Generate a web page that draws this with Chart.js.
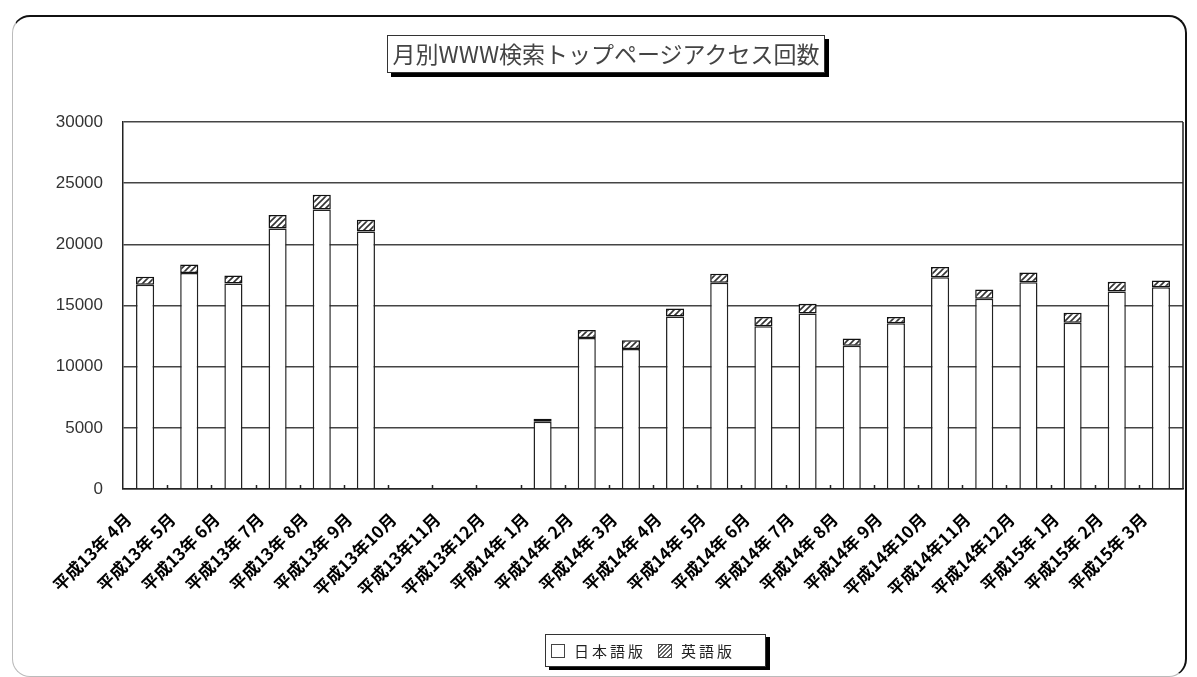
<!DOCTYPE html>
<html lang="ja">
<head>
<meta charset="utf-8">
<title>月別WWW検索トップページアクセス回数</title>
<script src="https://cdn.jsdelivr.net/npm/chart.js@4.4.1/dist/chart.umd.min.js"></script>
<style>
  html, body { margin: 0; padding: 0; background: #fff; }
  #wrap { position: relative; width: 1197px; height: 677px; overflow: hidden; }
  #frame {
    position: absolute; left: 12px; top: 15px; width: 1175px; height: 662px;
    box-sizing: border-box; border-radius: 18px;
    border-top: 2px solid #111; border-right: 2px solid #111;
    border-left: 1px solid #bbb; border-bottom: 1px solid #bbb;
  }
  canvas { position: absolute; left: 0; top: 0; }
  #title {
    position: absolute; left: 387px; top: 35px; width: 438px; height: 38px;
    box-sizing: border-box; border: 1.5px solid #333; box-shadow: 4px 4px 0 #000;
    background: #fff; color: #444; text-align: center; line-height: 35px;
    font: 23px "Noto Sans CJK JP", sans-serif; white-space: nowrap;
  }
  #legend {
    position: absolute; left: 545px; top: 634px; width: 221px; height: 33px;
    box-sizing: border-box; border: 1.5px solid #333; box-shadow: 4px 3px 0 #000;
    background: #fff; display: flex; align-items: center; padding-left: 5px;
    font: 15px "Noto Sans CJK JP", sans-serif; color: #222; letter-spacing: 3px;
  }
  .sw { display: inline-block; width: 14px; height: 14px; box-sizing: border-box; border: 1.5px solid #444; margin-right: 9px; }
  .sw.jp { background: #fff; }
  .sw.en { background: repeating-linear-gradient(135deg, #fff 0 1.5px, #666 1.5px 3px); margin-left: 12px; }
</style>
</head>
<body>
<div id="wrap">
  <div id="frame"></div>
  <canvas id="chart" width="1197" height="677"></canvas>
  <div id="title">月別WWW検索トップページアクセス回数</div>
  <div id="legend"><span class="sw jp"></span>日本語版<span class="sw en"></span>英語版</div>
</div>
<script>
const months = [
  "平成13年 4月", "平成13年 5月", "平成13年 6月", "平成13年 7月", "平成13年 8月", "平成13年 9月",
  "平成13年10月", "平成13年11月", "平成13年12月", "平成14年 1月", "平成14年 2月", "平成14年 3月",
  "平成14年 4月", "平成14年 5月", "平成14年 6月", "平成14年 7月", "平成14年 8月", "平成14年 9月",
  "平成14年10月", "平成14年11月", "平成14年12月", "平成15年 1月", "平成15年 2月", "平成15年 3月"
];
const japanese = [16700, 17650, 16800, 21300, 22850, 21050, null, null, null, 5500, 12350, 11450,
  14100, 16850, 13300, 14350, 11700, 13550, 17300, 15550, 16900, 13600, 16150, 16500];
const english = [650, 700, 650, 1100, 1200, 950, null, null, null, 250, 650, 700,
  650, 750, 750, 800, 600, 500, 850, 750, 800, 800, 800, 550];
const seriesNames = ["日本語版", "英語版"];
const yMax = 30000;
const yStep = 5000;

function hatch() {
  const c = document.createElement("canvas");
  c.width = 6; c.height = 6;
  const g = c.getContext("2d");
  g.fillStyle = "#fff";
  g.fillRect(0, 0, 6, 6);
  g.strokeStyle = "#333";
  g.lineWidth = 1.6;
  g.beginPath();
  g.moveTo(0, 6); g.lineTo(6, 0);
  g.moveTo(-1, 1); g.lineTo(1, -1);
  g.moveTo(5, 7); g.lineTo(7, 5);
  g.stroke();
  return g.createPattern(c, "repeat");
}

// right edge of the plot area and the small inward category ticks
const plotFrame = {
  id: "plotFrame",
  beforeDatasetsDraw(chart) {
    const { ctx, chartArea: a, scales: { x } } = chart;
    ctx.save();
    ctx.strokeStyle = "#222";
    ctx.lineWidth = 1.5;
    ctx.beginPath();
    ctx.moveTo(a.right, a.top);
    ctx.lineTo(a.right, a.bottom);
    for (let i = 1; i < months.length; i++) {
      const px = Math.round((x.getPixelForValue(i - 1) + x.getPixelForValue(i)) / 2) + 0.5;
      ctx.moveTo(px, a.bottom);
      ctx.lineTo(px, a.bottom - 4);
    }
    ctx.stroke();
    ctx.restore();
  }
};

new Chart(document.getElementById("chart"), {
  type: "bar",
  data: {
    labels: months,
    datasets: [
      {
        label: seriesNames[0],
        data: japanese,
        backgroundColor: "#fff",
        borderColor: "#222",
        borderWidth: 1.5,
        categoryPercentage: 1,
        barPercentage: 0.41,
      },
      {
        label: seriesNames[1],
        data: english,
        backgroundColor: hatch(),
        borderColor: "#111",
        borderWidth: 1.5,
        borderSkipped: false,
        categoryPercentage: 1,
        barPercentage: 0.41,
      },
    ],
  },
  options: {
    responsive: false,
    animation: false,
    layout: { padding: { top: 122, right: 14, bottom: 0, left: 0 } },
    plugins: {
      legend: { display: false },
      title: { display: false },
      tooltip: { enabled: false },
    },
    scales: {
      x: {
        stacked: true,
        grid: { display: false, drawTicks: false },
        border: { display: true, color: "#222", width: 1.5 },
        ticks: {
          autoSkip: false,
          minRotation: 45,
          maxRotation: 45,
          labelOffset: -17,
          padding: 20,
          color: "#000",
          font: { family: "'Noto Sans CJK JP'", size: 17, weight: "bold" },
        },
        afterFit: (s) => { s.height = 188; },
      },
      y: {
        stacked: true,
        min: 0,
        max: yMax,
        grid: { color: "#444", lineWidth: 1.5, drawTicks: false },
        border: { color: "#222", width: 1.5 },
        ticks: {
          stepSize: yStep,
          padding: 20,
          color: "#333",
          font: { family: "'Liberation Sans'", size: 17 },
          callback: (v) => String(v),
        },
        afterFit: (s) => { s.width = 123; },
      },
    },
  },
  plugins: [plotFrame],
});
</script>
</body>
</html>
